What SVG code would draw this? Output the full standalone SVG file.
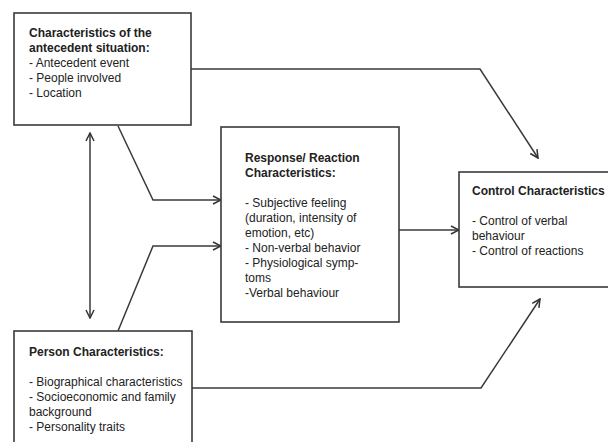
<svg xmlns="http://www.w3.org/2000/svg" width="608" height="442" viewBox="0 0 608 442">
<style>
.box{fill:#fff;stroke:#3a3a3a;stroke-width:1.6}
.t{font-family:"Liberation Sans",Arial,sans-serif;font-size:12px;fill:#222}
.b{font-weight:bold}
.c{fill:none;stroke:#3a3a3a;stroke-width:1.5}
</style>
<defs>
<marker id="ah" viewBox="0 0 10 10" refX="9" refY="5" markerWidth="10" markerHeight="10" markerUnits="userSpaceOnUse" orient="auto-start-reverse">
<path d="M1,1 L9,5 L1,9" fill="none" stroke="#333" stroke-width="1.5"/>
</marker>
</defs>
<rect width="608" height="442" fill="#fff"/>
<g id="connectors">
<polyline class="c" points="191,69 480,69 538,158" marker-end="url(#ah)"/>
<polyline class="c" points="118,126 153,200 221,200" marker-end="url(#ah)"/>
<polyline class="c" points="118,331 153,246 221,246" marker-end="url(#ah)"/>
<line class="c" x1="90" y1="133" x2="90" y2="318" marker-start="url(#ah)" marker-end="url(#ah)"/>
<line class="c" x1="399" y1="230" x2="459" y2="230" marker-end="url(#ah)"/>
<polyline class="c" points="192,388 481,388 540,299" marker-end="url(#ah)"/>
</g>
<g id="antecedent">
<rect class="box" x="14" y="13" width="177" height="112"/>
<text class="t b" x="29" y="37">Characteristics of the</text>
<text class="t b" x="29" y="52">antecedent situation:</text>
<text class="t" x="29" y="67">- Antecedent event</text>
<text class="t" x="29" y="82">- People involved</text>
<text class="t" x="29" y="97">- Location</text>
</g>
<g id="response">
<rect class="box" x="221" y="127" width="178" height="195"/>
<text class="t b" x="245" y="162">Response/ Reaction</text>
<text class="t b" x="245" y="177">Characteristics:</text>
<text class="t" x="245" y="207">- Subjective feeling</text>
<text class="t" x="245" y="222">(duration, intensity of</text>
<text class="t" x="245" y="237">emotion, etc)</text>
<text class="t" x="245" y="252">- Non-verbal behavior</text>
<text class="t" x="245" y="267">- Physiological symp-</text>
<text class="t" x="245" y="282">toms</text>
<text class="t" x="245" y="297">-Verbal behaviour</text>
</g>
<g id="control">
<rect class="box" x="459" y="172" width="160" height="115"/>
<text class="t b" x="472" y="195">Control Characteristics</text>
<text class="t" x="472" y="225">- Control of verbal</text>
<text class="t" x="472" y="240">behaviour</text>
<text class="t" x="472" y="255">- Control of reactions</text>
</g>
<g id="person">
<rect class="box" x="14" y="331" width="178" height="120"/>
<text class="t b" x="29" y="356">Person Characteristics:</text>
<text class="t" x="29" y="386">- Biographical characteristics</text>
<text class="t" x="29" y="401">- Socioeconomic and family</text>
<text class="t" x="29" y="416">background</text>
<text class="t" x="29" y="431">- Personality traits</text>
</g>
</svg>
